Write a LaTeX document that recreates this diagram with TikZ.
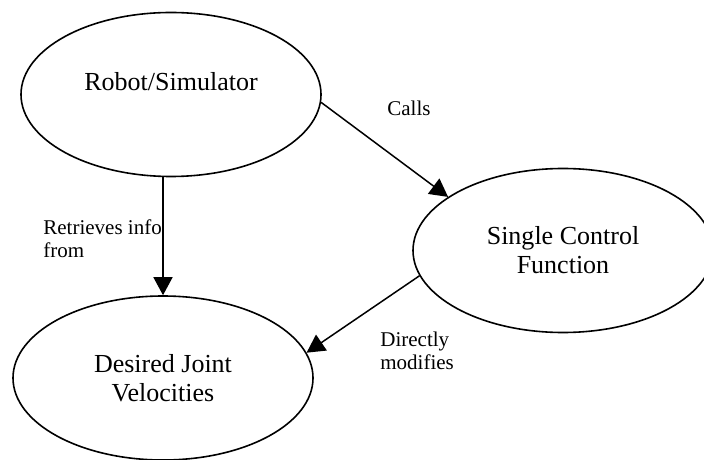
\documentclass[tikz,border=0pt]{standalone}
\usepackage{fontspec}
\setmainfont{Liberation Serif}
\usetikzlibrary{shapes.geometric,arrows.meta}

\begin{document}
\begin{tikzpicture}[x=0.5pt,y=-0.5pt]

      \useasboundingbox (0,0) rectangle (704,459);

      \begin{scope}[every node/.style={ellipse,draw,line width=0.8pt,
          minimum width=150pt,minimum height=82pt,align=center,
          font=\fontsize{13}{14.5}\selectfont}]
        \node[text depth=13pt] (robot) at (171,94.5) {Robot/Simulator};
        \node (control) at (563,250.5) {Single Control\\Function};
        \node (joints)  at (163,378) {Desired Joint\\Velocities};
      \end{scope}

      \begin{scope}[every node/.style={anchor=west,inner sep=0pt,align=left,
          font=\fontsize{10.5}{11.5}\selectfont}]
        \node (calls)    at (387,108) {Calls};
        \node (retrieve) at (43,239)  {Retrieves info\\from};
        \node (modify)   at (380,351) {Directly\\modifies};
      \end{scope}

      \begin{scope}[every path/.style={draw,line width=0.75pt,
          -{Triangle[length=9pt,width=9.5pt]}}]
        \path (robot.south -| joints.north) -- (joints.north);
        \path (robot.-3)    -- (control.155);
        \path (control.190) -- (joints.10);
      \end{scope}

    \end{tikzpicture}
\end{document}
